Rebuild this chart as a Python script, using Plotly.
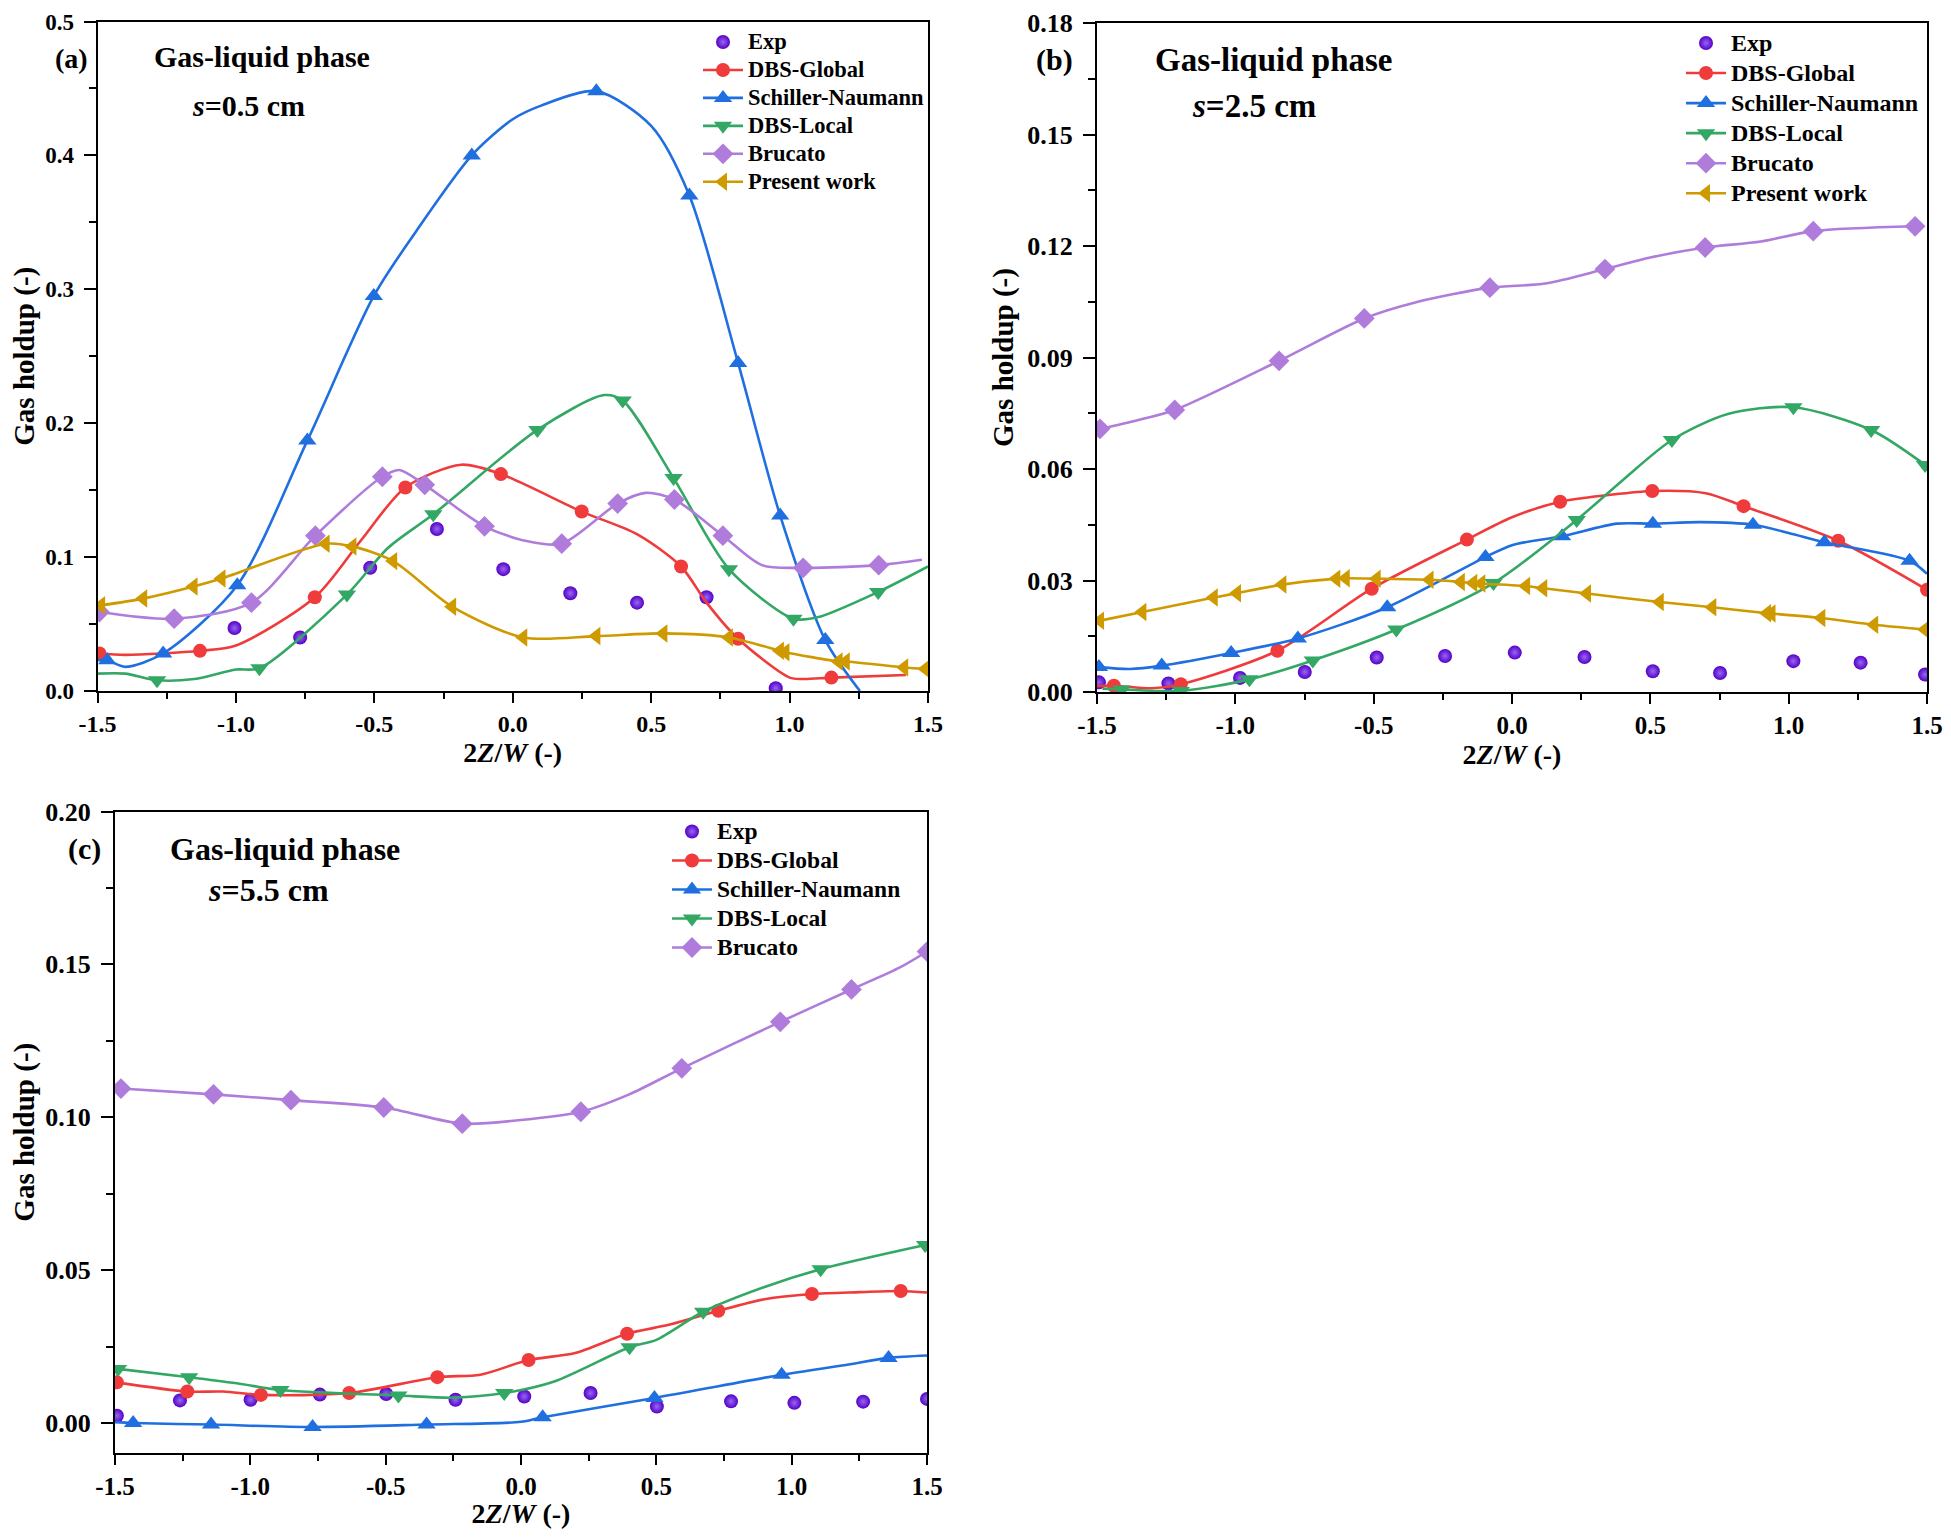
import plotly.graph_objects as go

# ---- panel (a): s = 0.5 cm ----
A_EXP_X = [-1.005, -0.768, -0.515, -0.274, -0.034, 0.208, 0.449, 0.70, 0.95]
A_EXP_Y = [0.047, 0.040, 0.092, 0.121, 0.091, 0.073, 0.066, 0.070, 0.002]

A_GLOBAL_X = [-1.493, -1.13, -0.715, -0.388, -0.043, 0.249, 0.608, 0.814, 1.151]
A_GLOBAL_Y = [0.028, 0.030, 0.070, 0.152, 0.162, 0.134, 0.093, 0.039, 0.010]
A_GLOBAL_KX = [-1.4, -1.0, -0.55, -0.186, 0.45, 0.70, 1.0, 1.05, 1.42]
A_GLOBAL_KY = [0.027, 0.034, 0.112, 0.169, 0.117, 0.066, 0.010, 0.009, 0.012]

A_SN_X = [-1.465, -1.263, -0.995, -0.742, -0.502, -0.148, 0.302, 0.638, 0.814, 0.966, 1.129]
A_SN_Y = [0.023, 0.028, 0.079, 0.187, 0.295, 0.400, 0.448, 0.370, 0.245, 0.131, 0.038]
A_SN_KX = [-1.5, -1.4, -0.35, 0.0, 0.1, 0.5, 1.254]
A_SN_KY = [0.023, 0.018, 0.343, 0.427, 0.437, 0.422, 0.0]

A_LOCAL_X = [-1.285, -0.915, -0.599, -0.287, 0.089, 0.397, 0.581, 0.781, 1.014, 1.32]
A_LOCAL_Y = [0.008, 0.017, 0.072, 0.132, 0.195, 0.217, 0.159, 0.091, 0.054, 0.074]
A_LOCAL_KX = [-1.5, -1.4, -1.15, -1.0, -0.45, 0.33, 1.1, 1.5]
A_LOCAL_KY = [0.013, 0.013, 0.009, 0.016, 0.107, 0.221, 0.055, 0.093]

A_BRUC_X = [-1.493, -1.223, -0.944, -0.713, -0.471, -0.318, -0.102, 0.177, 0.379, 0.584, 0.759, 1.049, 1.322]
A_BRUC_Y = [0.059, 0.054, 0.066, 0.116, 0.160, 0.154, 0.123, 0.110, 0.140, 0.143, 0.116, 0.092, 0.094]
A_BRUC_KX = [-0.41, 0.05, 0.48, 0.9, 1.478]
A_BRUC_KY = [0.165, 0.112, 0.148, 0.094, 0.098]

A_PRES_X = [-1.487, -1.335, -1.153, -1.052, -0.676, -0.579, -0.432, -0.219, 0.038, 0.302,
            0.544, 0.781, 0.965, 0.985, 1.177, 1.203, 1.414, 1.491]
A_PRES_Y = [0.064, 0.069, 0.078, 0.084, 0.110, 0.108, 0.097, 0.063, 0.040, 0.041,
            0.043, 0.040, 0.030, 0.029, 0.022, 0.022, 0.0176, 0.0165]

# ---- panel (b): s = 2.5 cm ----
B_EXP_X = [-1.493, -1.242, -0.983, -0.749, -0.489, -0.242, 0.010, 0.262, 0.509, 0.752, 1.017, 1.26, 1.493]
B_EXP_Y = [0.0026, 0.0023, 0.0038, 0.0054, 0.0093, 0.0097, 0.0106, 0.0094, 0.0056, 0.0051, 0.0083, 0.0079, 0.0047]

B_GLOBAL_X = [-1.439, -1.197, -0.848, -0.507, -0.163, 0.174, 0.507, 0.837, 1.179, 1.5]
B_GLOBAL_Y = [0.0017, 0.0021, 0.0111, 0.0278, 0.041, 0.0512, 0.0541, 0.050, 0.0407, 0.0275]
B_GLOBAL_KX = [-1.5, -1.3, 0.0, 0.35, 0.7]
B_GLOBAL_KY = [0.0016, 0.0010, 0.047, 0.053, 0.0535]

B_SN_X = [-1.493, -1.266, -1.015, -0.774, -0.451, -0.096, 0.181, 0.509, 0.871, 1.129, 1.437]
B_SN_Y = [0.0067, 0.0071, 0.0105, 0.0144, 0.0228, 0.0363, 0.0419, 0.0453, 0.045, 0.0403, 0.0353]
B_SN_KX = [-1.38, 0.0, 0.38, 0.68, 1.0, 1.5]
B_SN_KY = [0.0062, 0.0395, 0.0453, 0.0457, 0.0428, 0.0318]

B_LOCAL_X = [-1.41, -1.197, -0.949, -0.72, -0.418, -0.067, 0.234, 0.578, 1.017, 1.298, 1.493]
B_LOCAL_Y = [0.0007, 0.0003, 0.0034, 0.0085, 0.0168, 0.0293, 0.0463, 0.0678, 0.0766, 0.0705, 0.0611]
B_LOCAL_KX = [-1.48, 0.4, 0.78]
B_LOCAL_KY = [0.0009, 0.057, 0.0748]

B_BRUC_X = [-1.489, -1.219, -0.842, -0.534, -0.08, 0.336, 0.698, 1.089, 1.457]
B_BRUC_Y = [0.0708, 0.0759, 0.0891, 0.1005, 0.1088, 0.1138, 0.1196, 0.124, 0.1253]
B_BRUC_KX = [-1.35, -0.35, 0.12, 0.5, 0.9]
B_BRUC_KY = [0.0732, 0.1048, 0.1099, 0.1169, 0.1212]

B_PRES_X = [-1.489, -1.336, -1.078, -0.994, -0.83, -0.635, -0.601, -0.489, -0.298, -0.185, -0.14,
            -0.111, 0.051, 0.113, 0.271, 0.534, 0.724, 0.922, 0.938, 1.118, 1.309, 1.493]
B_PRES_Y = [0.0192, 0.0215, 0.0254, 0.0266, 0.0289, 0.0305, 0.0306, 0.0305, 0.0302, 0.0296, 0.0293,
            0.0292, 0.0285, 0.0279, 0.0265, 0.0242, 0.0228, 0.0212, 0.0211, 0.0199, 0.0181, 0.0168]

# ---- panel (c): s = 5.5 cm ----
C_EXP_X = [-1.493, -1.26, -0.999, -0.743, -0.498, -0.242, 0.012, 0.257, 0.502, 0.776, 1.01, 1.264, 1.5]
C_EXP_Y = [0.0024, 0.0074, 0.0076, 0.0093, 0.0095, 0.0076, 0.0087, 0.0098, 0.0054, 0.0071, 0.0066, 0.0070, 0.0079]

C_GLOBAL_X = [-1.493, -1.233, -0.961, -0.635, -0.309, 0.028, 0.392, 0.729, 1.075, 1.403]
C_GLOBAL_Y = [0.0133, 0.0103, 0.0092, 0.0098, 0.015, 0.0206, 0.0292, 0.0367, 0.0422, 0.0432]
C_GLOBAL_KX = [-1.1, -0.15, 0.2, 0.55, 0.9, 1.25, 1.5]
C_GLOBAL_KY = [0.0103, 0.0158, 0.0229, 0.0322, 0.0405, 0.0428, 0.0427]

C_SN_X = [-1.433, -1.145, -0.77, -0.349, 0.08, 0.493, 0.963, 1.358]
C_SN_Y = [0.0, -0.0005, -0.0013, -0.0005, 0.0019, 0.0082, 0.0158, 0.0213]
C_SN_KX = [-1.5, 0.0, 1.2, 1.5]
C_SN_KY = [0.0003, 0.0004, 0.019, 0.0221]

C_LOCAL_X = [-1.489, -1.226, -0.889, -0.453, -0.062, 0.401, 0.673, 1.107, 1.493]
C_LOCAL_Y = [0.0177, 0.015, 0.0108, 0.009, 0.0098, 0.0248, 0.0364, 0.0503, 0.0582]
C_LOCAL_KX = [-1.05, -0.25, 0.12, 0.5, 0.9]
C_LOCAL_KY = [0.0130, 0.0083, 0.0135, 0.0272, 0.0445]

C_BRUC_X = [-1.478, -1.136, -0.85, -0.507, -0.217, 0.221, 0.594, 0.958, 1.221, 1.5]
C_BRUC_Y = [0.1094, 0.1075, 0.1056, 0.1032, 0.0979, 0.1018, 0.116, 0.1312, 0.1418, 0.1542]
C_BRUC_KX = [0.0, 0.4, 1.4]
C_BRUC_KY = [0.0991, 0.1075, 0.149]

# ticks
X_TICKS = [-1.5, -1.0, -0.5, 0.0, 0.5, 1.0, 1.5]
X_TICKTEXT = ['-1.5', '-1.0', '-0.5', '0.0', '0.5', '1.0', '1.5']
A_YTICKS = [0.0, 0.1, 0.2, 0.3, 0.4, 0.5]
A_YTICKTEXT = ['0.0', '0.1', '0.2', '0.3', '0.4', '0.5']
B_YTICKS = [0.0, 0.03, 0.06, 0.09, 0.12, 0.15, 0.18]
B_YTICKTEXT = ['0.00', '0.03', '0.06', '0.09', '0.12', '0.15', '0.18']
C_YTICKS = [0.0, 0.05, 0.10, 0.15, 0.20]
C_YTICKTEXT = ['0.00', '0.05', '0.10', '0.15', '0.20']

SERIF = 'Liberation Serif'
EXP_COLOR = '#5600c6'
STYLE = {
    'DBS-Global': ('#ef3b3b', 'circle', 14),
    'Schiller-Naumann': ('#1f6fe0', 'triangle-up', 16),
    'DBS-Local': ('#33a864', 'triangle-down', 16),
    'Brucato': ('#b07cdc', 'diamond', 16),
    'Present work': ('#cf9a00', 'triangle-left', 16),
}

# page geometry: the html body keeps its default 8 px margin
PAGE_W, PAGE_H, BODY = 1951, 1537, 8
FIG_W, FIG_H = PAGE_W - 2 * BODY, PAGE_H - 2 * BODY


def fx(px):
    return (px - BODY) / FIG_W


def fy(py):
    return 1 - (py - BODY) / FIG_H


def merged(mx, my, kx, ky):
    pts = sorted(zip(list(mx) + list(kx), list(my) + list(ky)))
    return [p[0] for p in pts], [p[1] for p in pts]


fig = go.Figure()


def label(name, size):
    return "<span style='font-size:%spx'>%s</span>" % (size, name)


def add_exp(x, y, n, legend, tsize):
    fig.add_trace(go.Scatter(
        x=x, y=y, mode='markers', name=label('Exp', tsize), legend=legend,
        xaxis='x' + n, yaxis='y' + n,
        marker=dict(symbol='circle', size=14, color=EXP_COLOR,
                    gradient=dict(type='radial', color='#9468f2'))))


def add_series(name, mx, my, kx, ky, n, legend, tsize):
    color, symbol, size = STYLE[name]
    lx, ly = merged(mx, my, kx, ky)
    fig.add_trace(go.Scatter(
        x=lx, y=ly, mode='lines', showlegend=False, legend=legend,
        xaxis='x' + n, yaxis='y' + n,
        line=dict(color=color, width=2.6, shape='spline', smoothing=0.8)))
    fig.add_trace(go.Scatter(
        x=mx, y=my, mode='markers', showlegend=False, legend=legend,
        xaxis='x' + n, yaxis='y' + n,
        marker=dict(symbol=symbol, size=size, color=color)))
    # legend entry (line + marker)
    fig.add_trace(go.Scatter(
        x=[None], y=[None], mode='lines+markers', name=label(name, tsize), legend=legend,
        xaxis='x' + n, yaxis='y' + n,
        line=dict(color=color, width=2.6),
        marker=dict(symbol=symbol, size=size, color=color)))


# (a)
add_exp(A_EXP_X, A_EXP_Y, '', 'legend', 22.5)
add_series('DBS-Global', A_GLOBAL_X, A_GLOBAL_Y, A_GLOBAL_KX, A_GLOBAL_KY, '', 'legend', 22.5)
add_series('Schiller-Naumann', A_SN_X, A_SN_Y, A_SN_KX, A_SN_KY, '', 'legend', 22.5)
add_series('DBS-Local', A_LOCAL_X, A_LOCAL_Y, A_LOCAL_KX, A_LOCAL_KY, '', 'legend', 22.5)
add_series('Brucato', A_BRUC_X, A_BRUC_Y, A_BRUC_KX, A_BRUC_KY, '', 'legend', 22.5)
add_series('Present work', A_PRES_X, A_PRES_Y, [], [], '', 'legend', 22.5)

# (b)
add_exp(B_EXP_X, B_EXP_Y, '2', 'legend2', 24)
add_series('DBS-Global', B_GLOBAL_X, B_GLOBAL_Y, B_GLOBAL_KX, B_GLOBAL_KY, '2', 'legend2', 24)
add_series('Schiller-Naumann', B_SN_X, B_SN_Y, B_SN_KX, B_SN_KY, '2', 'legend2', 24)
add_series('DBS-Local', B_LOCAL_X, B_LOCAL_Y, B_LOCAL_KX, B_LOCAL_KY, '2', 'legend2', 24)
add_series('Brucato', B_BRUC_X, B_BRUC_Y, B_BRUC_KX, B_BRUC_KY, '2', 'legend2', 24)
add_series('Present work', B_PRES_X, B_PRES_Y, [], [], '2', 'legend2', 24)

# (c)
add_exp(C_EXP_X, C_EXP_Y, '3', 'legend3', 23.5)
add_series('DBS-Global', C_GLOBAL_X, C_GLOBAL_Y, C_GLOBAL_KX, C_GLOBAL_KY, '3', 'legend3', 23.5)
add_series('Schiller-Naumann', C_SN_X, C_SN_Y, C_SN_KX, C_SN_KY, '3', 'legend3', 23.5)
add_series('DBS-Local', C_LOCAL_X, C_LOCAL_Y, C_LOCAL_KX, C_LOCAL_KY, '3', 'legend3', 23.5)
add_series('Brucato', C_BRUC_X, C_BRUC_Y, C_BRUC_KX, C_BRUC_KY, '3', 'legend3', 23.5)


def xaxis(x0, x1, anchor, fsize):
    return dict(
        domain=[fx(x0), fx(x1)], anchor=anchor, range=[-1.5, 1.5], automargin=False,
        tickmode='array', tickvals=X_TICKS, ticktext=X_TICKTEXT,
        ticks='outside', ticklen=10, tickwidth=2, tickcolor='black',
        minor=dict(tickmode='linear', tick0=-1.5, dtick=0.25, ticks='outside',
                   ticklen=6, tickwidth=2, tickcolor='black'),
        showline=True, linewidth=2, linecolor='black', mirror=True,
        showgrid=False, zeroline=False,
        tickfont=dict(family=SERIF, size=fsize, color='black', weight='bold'),
        title=dict(text='2<i>Z</i>/<i>W</i> (-)', standoff=0,
                   font=dict(family=SERIF, size=28, color='black', weight='bold')))


def yaxis(y0, y1, anchor, rng, vals, text, minor, fsize, standoff):
    return dict(
        domain=[fy(y1), fy(y0)], anchor=anchor, range=rng, automargin=False,
        tickmode='array', tickvals=vals, ticktext=text,
        ticks='outside', ticklen=12, tickwidth=2, tickcolor='black',
        ticklabelstandoff=5,
        minor=dict(tickmode='linear', tick0=0, dtick=minor, ticks='outside',
                   ticklen=7, tickwidth=2, tickcolor='black'),
        showline=True, linewidth=2, linecolor='black', mirror=True,
        showgrid=False, zeroline=False,
        tickfont=dict(family=SERIF, size=fsize, color='black', weight='bold'),
        title=dict(text='Gas holdup (-)', standoff=standoff,
                   font=dict(family=SERIF, size=29, color='black', weight='bold')))


def legend(px, py, size):
    return dict(x=fx(px), y=fy(py), xanchor='left', yanchor='top', bgcolor='rgba(0,0,0,0)',
                font=dict(family=SERIF, size=size, color='black', weight='bold'),
                tracegroupgap=0, itemwidth=40)


fig.update_layout(
    template='none',
    width=FIG_W, height=FIG_H,
    margin=dict(l=0, r=0, t=0, b=0),
    paper_bgcolor='white', plot_bgcolor='white',
    xaxis=xaxis(97.5, 928, 'y', 24),
    yaxis=yaxis(21.5, 691, 'x', [0, 0.5], A_YTICKS, A_YTICKTEXT, 0.05, 23, 4),
    xaxis2=xaxis(1097, 1927, 'y2', 25),
    yaxis2=yaxis(23, 692, 'x2', [0, 0.18], B_YTICKS, B_YTICKTEXT, 0.015, 26, 5),
    xaxis3=xaxis(115, 927, 'y3', 25),
    yaxis3=yaxis(811.5, 1453, 'x3', [-0.0098, 0.2], C_YTICKS, C_YTICKTEXT, 0.025, 26, 4),
    legend=legend(698, 23, 19.2),
    legend2=legend(1681, 23, 20.8),
    legend3=legend(667, 812, 20),
    showlegend=True,
)

notes = [
    # (text, x px, y px, size, anchor)
    ('(a)', 90, 59, 28, 'right'),
    ('Gas-liquid phase', 152, 56, 30, 'left'),
    ('<i>s</i>=0.5 cm', 190, 105, 30, 'left'),
    ('(b)', 1075, 60, 30, 'right'),
    ('Gas-liquid phase', 1153, 60, 33, 'left'),
    ('<i>s</i>=2.5 cm', 1190, 106, 33, 'left'),
    ('(c)', 103, 849, 30, 'right'),
    ('Gas-liquid phase', 168, 849, 32, 'left'),
    ('<i>s</i>=5.5 cm', 206, 890, 32, 'left'),
]
for text, px, py, size, anchor in notes:
    fig.add_annotation(text=text, xref='paper', yref='paper',
                       x=fx(px), y=fy(py), xanchor=anchor, yanchor='middle',
                       showarrow=False,
                       font=dict(family=SERIF, size=size, color='black', weight='bold'))

fig.write_html('out.html')
